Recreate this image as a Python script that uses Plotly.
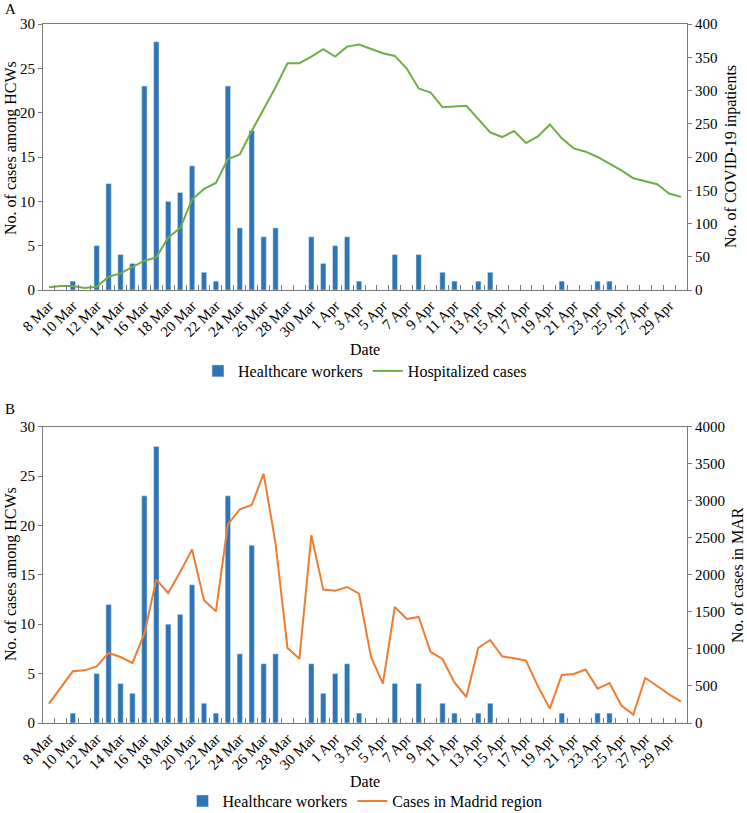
import plotly.graph_objects as go

dates = [f"{d} Mar" for d in range(8, 32)] + [f"{d} Apr" for d in range(1, 31)]

hcw_cases = [0, 0, 1, 0, 5, 12, 4, 3, 23, 28, 10, 11, 14, 2, 1, 23, 7, 18, 6, 7,
             0, 0, 6, 3, 5, 6, 1, 0, 0, 4, 0, 4, 0, 2, 1, 0, 1, 2, 0, 0,
             0, 0, 0, 1, 0, 0, 1, 1, 0, 0, 0, 0, 0, 0]

hospitalized = [4, 6, 6, 3, 5, 20, 25, 34, 44, 49, 79, 93, 136, 152, 161, 197, 204, 239, 271, 305,
                341, 341, 351, 362, 351, 366, 369, 363, 356, 352, 333, 303, 297, 275, 276, 277, 257, 237, 230, 239,
                221, 231, 249, 228, 213, 208, 200, 190, 180, 168, 163, 159, 145, 140]

madrid_cases = [262, 478, 698, 711, 765, 945, 891, 810, 1207, 1936, 1755, 2039, 2341, 1656, 1508, 2682, 2885, 2943, 3367, 2422,
                1013, 866, 2534, 1801, 1785, 1836, 1745, 895, 532, 1566, 1404, 1431, 959, 864, 549, 351, 1013, 1120, 900, 873,
                842, 495, 194, 648, 662, 721, 464, 540, 235, 113, 608, 500, 387, 289]

tick_labels = [d if i % 2 == 0 else "" for i, d in enumerate(dates)]

BLUE = "#2E75B6"
GREEN = "#70AD47"
ORANGE = "#ED7D31"
AXIS = "#7a7a7a"
FONT = "'Liberation Serif', 'Times New Roman', 'DejaVu Serif', serif"

fig = go.Figure()
fig.add_trace(go.Bar(x=dates, y=hcw_cases, name="Healthcare workers", marker_color=BLUE,
                     xaxis="x", yaxis="y", legend="legend"))
fig.add_trace(go.Scatter(x=dates, y=hospitalized, name="Hospitalized cases", mode="lines",
                         line=dict(color=GREEN, width=2), xaxis="x", yaxis="y2", legend="legend"))
fig.add_trace(go.Bar(x=dates, y=hcw_cases, name="Healthcare workers", marker_color=BLUE,
                     xaxis="x2", yaxis="y3", legend="legend2"))
fig.add_trace(go.Scatter(x=dates, y=madrid_cases, name="Cases in Madrid region", mode="lines",
                         line=dict(color=ORANGE, width=2), xaxis="x2", yaxis="y4", legend="legend2"))

H = 813 - 24 - 90
a_bot = (723 - 290) / H

xcommon = dict(type="category", showline=True, linecolor=AXIS, linewidth=1, mirror=True,
               ticks="inside", ticklen=5, tickcolor=AXIS, tickson="boundaries",
               tickmode="array", tickvals=dates, ticktext=tick_labels, tickangle=-45,
               tickfont=dict(family=FONT, size=15, color="black"), showgrid=False, zeroline=False,
               range=[-0.5, len(dates) - 0.5], automargin=False)
ycommon = dict(showline=True, linecolor=AXIS, linewidth=1, ticks="outside", ticklen=4, tickcolor=AXIS,
               tickfont=dict(family=FONT, size=15, color="black"), showgrid=False, zeroline=False,
               automargin=False)

fig.update_layout(
    width=747, height=813,
    margin=dict(l=43, r=60, t=24, b=90, autoexpand=False),
    paper_bgcolor="white", plot_bgcolor="white",
    bargap=0.55,
    font=dict(family=FONT, color="black"),
    xaxis=dict(domain=[0, 1], anchor="y", **xcommon),
    yaxis=dict(domain=[a_bot, 1], range=[0, 30], dtick=5, side="left", **ycommon),
    yaxis2=dict(overlaying="y", anchor="x", side="right", range=[0, 400], dtick=50, **ycommon),
    xaxis2=dict(domain=[0, 1], anchor="y3", **xcommon),
    yaxis3=dict(domain=[0, (723 - 426.7) / H], range=[0, 30], dtick=5, side="left", anchor="x2", **ycommon),
    yaxis4=dict(overlaying="y3", anchor="x2", side="right", range=[0, 4000], dtick=500, **ycommon),
    legend=dict(orientation="h", x=0.5, xanchor="center", y=(723 - 371) / H, yanchor="middle",
                font=dict(family=FONT, size=16, color="black"), bgcolor="rgba(0,0,0,0)", itemwidth=30),
    legend2=dict(orientation="h", x=0.5, xanchor="center", y=(723 - 801) / H, yanchor="middle",
                 font=dict(family=FONT, size=16, color="black"), bgcolor="rgba(0,0,0,0)", itemwidth=30),
    showlegend=True,
)

def ann(text, x, y, angle=0, size=16, xanchor="center"):
    fig.add_annotation(text=text, x=x, y=y, xref="paper", yref="paper", showarrow=False,
                       textangle=angle, xanchor=xanchor, yanchor="middle",
                       font=dict(family=FONT, size=size, color="black"))

W = 644
ann("No. of cases among HCWs", (11 - 43) / W, (723 - 148) / H, -90)
ann("No. of COVID-19 inpatients", (731 - 43) / W, (723 - 157) / H, -90)
ann("No. of cases among HCWs", (11 - 43) / W, (723 - 574) / H, -90)
ann("No. of cases in MAR", (737 - 43) / W, (723 - 575) / H, -90)
ann("Date", 0.5, (723 - 349) / H, size=16)
ann("Date", 0.5, (723 - 781) / H, size=16)
ann("A", (3 - 43) / W, (723 - 9) / H, size=15, xanchor="left")
ann("B", (3 - 43) / W, (723 - 409) / H, size=15, xanchor="left")

fig.write_html("out.html", config={"displayModeBar": False},
               post_script="document.body.style.margin='0px';document.body.style.overflow='hidden';")
